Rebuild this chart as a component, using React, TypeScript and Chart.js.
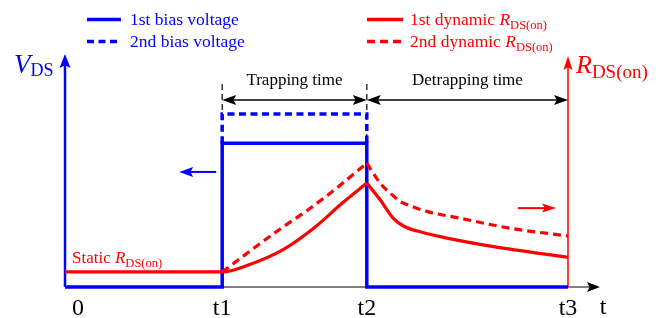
import React, { useEffect, useRef } from "react";
import { Chart, registerables } from "chart.js";

Chart.register(...registerables);

// ---- data (time in units of t1, level in arbitrary units) ----
const T1 = 1;
const T2 = 1.92;
const T3 = 3.2;
const tickValues = [0, T1, T2, T3];
const tickLabels = ["0", "t1", "t2", "t3"];

const bias1Time = [0, T1, T1, T2, T2, T3];
const bias1Level = [0, 0, 6.2, 6.2, 0, 0];
const bias2Time = [T1, T1, T2, T2];
const bias2Level = [6.2, 7.46, 7.46, 6.2];

const r1RiseTime = [0, 1, 1.166, 1.382, 1.592, 1.764, 1.92];
const r1Rise = [0.65, 0.65, 0.95, 1.59, 2.59, 3.62, 4.48];
const r1DecayTime = [1.92, 2.006, 2.089, 2.153, 2.242, 2.408, 2.726, 3.2];
const r1Decay = [4.48, 3.75, 2.96, 2.63, 2.41, 2.14, 1.74, 1.28];

const r2RiseTime = [1, 1.07, 1.197, 1.369, 1.541, 1.707, 1.803, 1.92];
const r2Rise = [0.65, 1.0, 1.65, 2.5, 3.3, 4.15, 4.68, 5.34];
const r2DecayTime = [1.92, 2.006, 2.07, 2.134, 2.217, 2.306, 2.516, 2.834, 3.2];
const r2Decay = [5.34, 4.47, 4.04, 3.68, 3.45, 3.25, 2.96, 2.53, 2.2];

const BLUE = "#0000ff";
const RED = "#ff0000";
const SERIF = '"Liberation Serif", "DejaVu Serif", serif';

const zip = (xs: number[], ys: number[]) => xs.map((x, i) => ({ x, y: ys[i] }));

type Part = { text: string; font: string; dy?: number };
function drawRich(ctx: CanvasRenderingContext2D, x: number, y: number, parts: Part[], color: string, align = "left") {
  ctx.save();
  ctx.fillStyle = color;
  ctx.textBaseline = "alphabetic";
  ctx.textAlign = "left";
  let total = 0;
  for (const p of parts) {
    ctx.font = p.font;
    total += ctx.measureText(p.text).width;
  }
  let cx = align === "center" ? x - total / 2 : x;
  for (const p of parts) {
    ctx.font = p.font;
    ctx.fillText(p.text, cx, y + (p.dy || 0));
    cx += ctx.measureText(p.text).width;
  }
  ctx.restore();
}

function arrowHead(ctx: CanvasRenderingContext2D, tipX: number, tipY: number, dir: "l" | "r" | "u", len: number, half: number, color: string) {
  ctx.save();
  ctx.fillStyle = color;
  ctx.beginPath();
  ctx.moveTo(tipX, tipY);
  if (dir === "l") {
    ctx.lineTo(tipX + len, tipY - half);
    ctx.lineTo(tipX + len * 0.8, tipY);
    ctx.lineTo(tipX + len, tipY + half);
  } else if (dir === "r") {
    ctx.lineTo(tipX - len, tipY - half);
    ctx.lineTo(tipX - len * 0.8, tipY);
    ctx.lineTo(tipX - len, tipY + half);
  } else {
    ctx.lineTo(tipX - half, tipY + len);
    ctx.lineTo(tipX, tipY + len * 0.8);
    ctx.lineTo(tipX + half, tipY + len);
  }
  ctx.closePath();
  ctx.fill();
  ctx.restore();
}

function line(ctx: CanvasRenderingContext2D, x1: number, y1: number, x2: number, y2: number, color: string, w: number, dash: number[] = []) {
  ctx.save();
  ctx.strokeStyle = color;
  ctx.lineWidth = w;
  ctx.setLineDash(dash);
  ctx.beginPath();
  ctx.moveTo(x1, y1);
  ctx.lineTo(x2, y2);
  ctx.stroke();
  ctx.restore();
}

const diagramPlugin = {
  id: "diagram",
  beforeDatasetsDraw(chart: any) {
    const ctx = chart.ctx as CanvasRenderingContext2D;
    const xs = chart.scales.x;
    const ys = chart.scales.y;
    const x0 = xs.getPixelForValue(0);
    const x1 = xs.getPixelForValue(T1);
    const x2 = xs.getPixelForValue(T2);
    const x3 = xs.getPixelForValue(T3);
    const yb = ys.getPixelForValue(0);
    line(ctx, x0, yb, x3 + 22, yb, "#000", 1.2);
    line(ctx, x0, yb, x0, 64, BLUE, 2.5);
    line(ctx, x3, yb, x3, 66, RED, 1.5);
    line(ctx, x1, 84, x1, ys.getPixelForValue(7.46), "#000", 1.2, [6, 4]);
    line(ctx, x2, 84, x2, ys.getPixelForValue(6.2), "#000", 1.2, [6, 4]);
  },
  afterDatasetsDraw(chart: any) {
    const ctx = chart.ctx as CanvasRenderingContext2D;
    const xs = chart.scales.x;
    const ys = chart.scales.y;
    const x0 = xs.getPixelForValue(0);
    const x1 = xs.getPixelForValue(T1);
    const x2 = xs.getPixelForValue(T2);
    const x3 = xs.getPixelForValue(T3);
    const yb = ys.getPixelForValue(0);

    arrowHead(ctx, x0, 54, "u", 14, 5.5, BLUE);
    arrowHead(ctx, x3, 56, "u", 14, 4.5, RED);
    arrowHead(ctx, x3 + 32, yb, "r", 13, 5, "#000");

    const ya = ys.getPixelForValue(8.06);
    line(ctx, x1 + 4, ya, x2 - 4, ya, "#000", 1.3);
    line(ctx, x2 + 4, ya, x3 - 4, ya, "#000", 1.3);
    arrowHead(ctx, x1, ya, "l", 14, 5, "#000");
    arrowHead(ctx, x2, ya, "r", 14, 5, "#000");
    arrowHead(ctx, x2, ya, "l", 14, 5, "#000");
    arrowHead(ctx, x3, ya, "r", 14, 5, "#000");
    drawRich(ctx, (x1 + x2) / 2, 85, [{ text: "Trapping time", font: `17px ${SERIF}` }], "#000", "center");
    drawRich(ctx, (x2 + x3) / 2, 85, [{ text: "Detrapping time", font: `17px ${SERIF}` }], "#000", "center");

    const yBlueArrow = ys.getPixelForValue(4.96);
    line(ctx, x1 - 6, yBlueArrow, x1 - 34, yBlueArrow, BLUE, 2);
    arrowHead(ctx, x1 - 43, yBlueArrow, "l", 14, 5, BLUE);
    const yRedArrow = ys.getPixelForValue(3.4);
    line(ctx, x3 - 50, yRedArrow, x3 - 22, yRedArrow, RED, 2);
    arrowHead(ctx, x3 - 12, yRedArrow, "r", 14, 4.5, RED);

    ctx.save();
    ctx.font = `24px ${SERIF}`;
    ctx.fillStyle = "#000";
    ctx.textAlign = "center";
    ctx.textBaseline = "alphabetic";
    tickValues.forEach((v, i) => {
      const px = xs.getPixelForValue(v) + (i === 0 ? 13 : 0);
      ctx.fillText(tickLabels[i], px, 315);
    });
    ctx.fillText("t", x3 + 35, 314);
    ctx.restore();

    drawRich(ctx, 14, 73, [
      { text: "V", font: `italic 27px ${SERIF}` },
      { text: "DS", font: `18px ${SERIF}`, dy: 3 },
    ], BLUE);
    drawRich(ctx, 576, 73, [
      { text: "R", font: `italic 26px ${SERIF}` },
      { text: "DS(on)", font: `19px ${SERIF}`, dy: 5 },
    ], RED);

    drawRich(ctx, 72, 263, [
      { text: "Static ", font: `17px ${SERIF}` },
      { text: "R", font: `italic 17px ${SERIF}` },
      { text: "DS(on)", font: `12.5px ${SERIF}`, dy: 3.5 },
    ], RED);

    line(ctx, 87, 19.5, 121, 19.5, BLUE, 3.5);
    line(ctx, 87, 41.5, 121, 41.5, BLUE, 3.5, [7, 4.5]);
    drawRich(ctx, 130, 25, [{ text: "1st bias voltage", font: `17.5px ${SERIF}` }], BLUE);
    drawRich(ctx, 130, 47, [{ text: "2nd bias voltage", font: `17.5px ${SERIF}` }], BLUE);
    line(ctx, 367, 19.5, 403, 19.5, RED, 3.5);
    line(ctx, 367, 41.5, 403, 41.5, RED, 3.5, [8, 5]);
    drawRich(ctx, 410, 25, [
      { text: "1st dynamic ", font: `17.5px ${SERIF}` },
      { text: "R", font: `italic 17.5px ${SERIF}` },
      { text: "DS(on)", font: `12.5px ${SERIF}`, dy: 4 },
    ], RED);
    drawRich(ctx, 410, 47, [
      { text: "2nd dynamic ", font: `17.5px ${SERIF}` },
      { text: "R", font: `italic 17.5px ${SERIF}` },
      { text: "DS(on)", font: `12.5px ${SERIF}`, dy: 4 },
    ], RED);
  },
};

export default function App() {
  const ref = useRef<HTMLCanvasElement | null>(null);
  useEffect(() => {
    if (!ref.current) return;
    const chart = new Chart(ref.current, {
      type: "line",
      data: {
        datasets: [
          { label: "1st dynamic RDS(on) rise", data: zip(r1RiseTime, r1Rise), borderColor: RED, borderWidth: 3.2, cubicInterpolationMode: "monotone" },
          { label: "1st dynamic RDS(on) decay", data: zip(r1DecayTime, r1Decay), borderColor: RED, borderWidth: 3.2, cubicInterpolationMode: "monotone" },
          { label: "2nd dynamic RDS(on) rise", data: zip(r2RiseTime, r2Rise), borderColor: RED, borderWidth: 3.2, borderDash: [8, 5], cubicInterpolationMode: "monotone" },
          { label: "2nd dynamic RDS(on) decay", data: zip(r2DecayTime, r2Decay), borderColor: RED, borderWidth: 3.2, borderDash: [8, 5], cubicInterpolationMode: "monotone" },
          { label: "1st bias voltage", data: zip(bias1Time, bias1Level), borderColor: BLUE, borderWidth: 3.5, tension: 0, borderJoinStyle: "miter" },
          { label: "2nd bias voltage", data: zip(bias2Time, bias2Level), borderColor: BLUE, borderWidth: 3.5, borderDash: [7, 4.5], tension: 0, borderJoinStyle: "miter" },
        ] as any,
      },
      options: {
        animation: false,
        responsive: false,
        devicePixelRatio: 1,
        events: [],
        layout: { padding: { left: 65, right: 101, top: 55, bottom: 31 } },
        elements: { point: { radius: 0 }, line: { fill: false } },
        datasets: { line: { clip: false as any } } as any,
        scales: {
          x: { type: "linear", min: 0, max: T3, display: false },
          y: { type: "linear", min: 0, max: 10, display: false },
        },
        plugins: { legend: { display: false }, tooltip: { enabled: false } },
      },
      plugins: [diagramPlugin],
    });
    return () => chart.destroy();
  }, []);
  return (
    <div style={{ position: "fixed", left: 0, top: 0, width: 669, height: 318, background: "#fff" }}>
      <canvas ref={ref} width={669} height={318} />
    </div>
  );
}
